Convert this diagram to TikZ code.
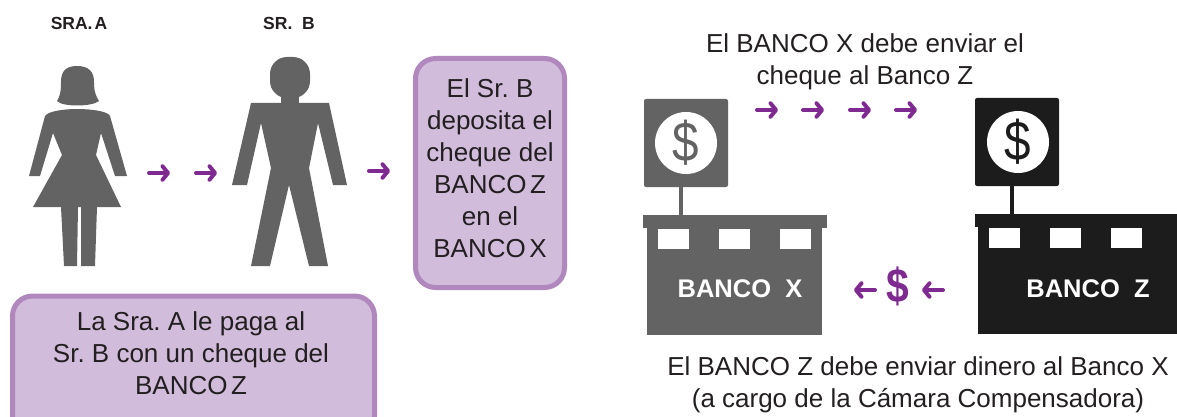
\documentclass[tikz,border=0pt]{standalone}
\usepackage{fontspec}
\setmainfont{Liberation Sans}
\usetikzlibrary{arrows.meta}
\frenchspacing
\definecolor{grayX}{HTML}{636363}
\definecolor{blackZ}{HTML}{1C1C1C}
\definecolor{arrowPurple}{HTML}{7F2A90}
\definecolor{boxFill}{HTML}{D2BCDC}
\definecolor{boxLine}{HTML}{B088BD}
\definecolor{textDark}{HTML}{231F20}
\tikzset{
	txt/.style={font=\fontsize{26}{32}\selectfont, text=textDark, align=center, inner sep=0pt},
	name label/.style={font=\fontsize{17.5}{18}\selectfont\bfseries, text=textDark, inner sep=0pt},
	note box/.style={rectangle, draw=boxLine, fill=boxFill, line width=5pt, rounded corners=20pt, inner sep=0pt},
	flow/.style={draw=arrowPurple, line width=4pt, line cap=round, -{Straight Barb[length=5.5pt, width=13.5pt, round]}},
	bank text/.style={font=\fontsize{25.5}{28}\selectfont\bfseries, text=white, inner sep=0pt},
	part/.style={rectangle, draw=none, inner sep=0pt, outer sep=0pt}
}
\begin{document}
\begin{tikzpicture}[x=1pt, y=-1pt]
	\useasboundingbox (0,0) rectangle (1177,417);
	\clip (0,0) rectangle (1177,417);

	% Names
	\node[name label] (sraA) at (79,23) {SRA.\kern2pt A};
	\node[name label] (srB) at (289,23) {SR.\ \ B};

	% Woman
	\fill[grayX] (77,66) .. controls (65,66) and (61,72) .. (61,82)
		.. controls (61,92) and (60,96) .. (57,101) .. controls (62,107) and (92,107) .. (99,101)
		.. controls (96,96) and (94,92) .. (94,82) .. controls (94,72) and (89,66) .. (77,66) -- cycle;
	\fill[grayX] (45,116) .. controls (48,111) and (65,109) .. (77,109) .. controls (90,109) and (108,111) .. (110,116)
		-- (127,176) -- (115,176) -- (101,133) -- (96,155) -- (121,207) -- (97,207) -- (95,266) -- (81,266)
		-- (81,207) -- (78,207) -- (77,266) -- (64,266) -- (61,207) -- (33,207) -- (62,155) -- (53,133)
		-- (40,176) -- (29,176) -- cycle;

	% Man
	\fill[grayX, rounded corners=17pt] (270,57) rectangle (310,98);
	\fill[grayX] (281,92) rectangle (299,104);
	\fill[grayX] (251,103) -- (329,103) -- (347,185) -- (333,185) -- (318,123) -- (309,168) -- (328,266)
		-- (309,266) -- (289,185) -- (270,266) -- (251,266) -- (271,168) -- (261,123) -- (247,185)
		-- (232,185) -- cycle;

	% Note boxes
	\node[note box, minimum width=149pt, minimum height=229pt] (boxDeposit) at (490,173) {};
	\node[txt] (textDeposit) at (490,168) {El Sr. B\\deposita el\\cheque del\\BANCO\kern3.5pt Z\\en el\\BANCO\kern3.5pt X};
	\node[note box, minimum width=362pt, minimum height=140pt] (boxPay) at (193.5,366) {};
	\node[txt] (textPay) at (191,353.5) {La Sra. A le paga al\\Sr. B con un cheque del\\BANCO\kern3.5pt Z};

	% Banks
	\foreach \name/\col/\sx/\sy/\cx/\rx/\rw/\bx/\bw in {X/grayX/686/143/686/643/184/647/175, Z/blackZ/1017/142/1018/975/202/978/199} {
		\node[part, fill=\col, rounded corners=2pt, minimum width=84pt, minimum height=88pt] (sign\name) at (\sx,\sy) {};
		\node[circle, fill=white, inner sep=0pt, minimum size=62pt] (coin\name) at (\cx,\sy) {};
		\node[inner sep=0pt, text=\col, xscale=0.85, font=\fontsize{56}{56}\selectfont] (mark\name) at (\cx,\sy) {\$};
		\node[part, fill=\col, anchor=north west, minimum width=\rw pt, minimum height=13pt] (roof\name) at (\rx,\sy+72) {};
		\node[part, fill=\col, anchor=north west, minimum width=\bw pt, minimum height=107pt] (body\name) at (\bx,\sy+85) {};
		\draw[\col, line width=4pt] ([xshift=-5pt]sign\name.south) -- ([xshift=-5pt]sign\name.south |- roof\name.north);
		\foreach \k in {0,1,2} {
			\node[part, fill=white, anchor=north west, minimum width=31pt, minimum height=20pt] (win\name\k) at (\bx+11+61*\k,\sy+86) {};
		}
	}
	\node[bank text] (labelX) at (740,289) {BANCO\ \ X};
	\node[bank text] (labelZ) at (1088,289) {BANCO\ \ Z};

	% Bank texts
	\node[txt] (textCheque) at (865,62) {El BANCO X debe enviar el\\cheque al Banco Z};
	\node[txt] (textCash) at (918,385) {El BANCO Z debe enviar dinero al Banco X\\(a cargo de la Cámara Compensadora)};
	\node[inner sep=0pt, text=arrowPurple, xscale=0.85, font=\fontsize{48}{48}\selectfont\bfseries] (cash) at (898,286) {\$};

	% Arrows
	\foreach \i/\x/\y in {1/149/173, 2/196/173, 3/369/171, 4/757/110, 5/803/110, 6/850/110, 7/896/110} {
		\coordinate (from\i) at (\x,\y);
		\coordinate (to\i) at (\x+21,\y);
		\draw[flow] (from\i) -- (to\i);
	}
	\foreach \i/\x in {8/875, 9/943} {
		\coordinate (from\i) at (\x,290);
		\coordinate (to\i) at (\x-21,290);
		\draw[flow] (from\i) -- (to\i);
	}
\end{tikzpicture}
\end{document}
